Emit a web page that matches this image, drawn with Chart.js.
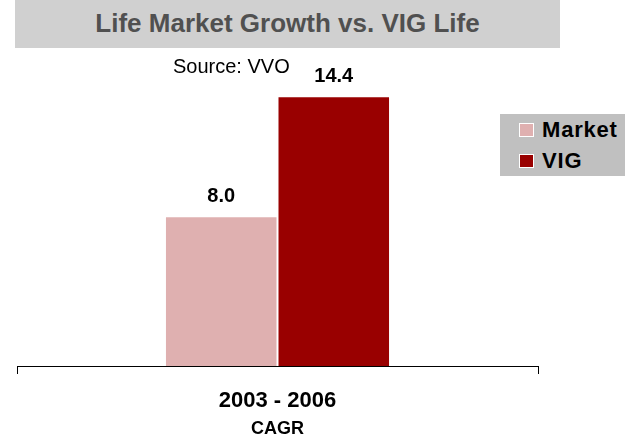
<!DOCTYPE html>
<html>
<head>
<meta charset="utf-8">
<script src="https://cdn.jsdelivr.net/npm/chart.js@4/dist/chart.umd.min.js"></script>
<style>
    html, body { margin: 0; padding: 0; background: #fff; }
    body { width: 625px; height: 438px; position: relative; overflow: hidden; font-family: "Liberation Sans", Arial, sans-serif; }
    #chartBox { position: absolute; left: 0; top: 0; width: 625px; height: 438px; }
    .title-box {
        position: absolute; left: 15px; top: 0; width: 545px; height: 48px;
        background: #d0d0d0; color: #505050; font-weight: bold; font-size: 26px;
        text-align: center; line-height: 46px;
    }
    .source { position: absolute; left: 173px; top: 54px; font-size: 20px; line-height: 24px; color: #000; }
    .legend-box {
        position: absolute; left: 500px; top: 114px; width: 125px; height: 62px;
        background: #c0c0c0;
    }
    .legend-item { position: absolute; left: 19px; font-weight: bold; font-size: 22px; letter-spacing: 0.8px; color: #000; line-height: 24px; white-space: nowrap; }
    .legend-item span {
        display: inline-block; width: 13px; height: 12px; border: 1px solid #fff;
        margin-right: 8px; vertical-align: 0px;
    }
</style>
</head>
<body>
<div id="chartBox"><canvas id="chart" width="625" height="438"></canvas></div>
<div class="title-box">Life Market Growth vs. VIG Life</div>
<div class="source">Source: VVO</div>
<div class="legend-box" id="legend"></div>

<script>
// Dữ liệu
const categories = ["2003 - 2006"];
const seriesNames = ["Market", "VIG"];
const marketValues = [8.0];
const vigValues = [14.4];
const seriesColors = ["#dfb0b0", "#990000"];
const axisTitle = "CAGR";

document.addEventListener("DOMContentLoaded", function () {
    // legend (HTML)
    const legend = document.getElementById("legend");
    seriesNames.forEach((name, i) => {
        const div = document.createElement("div");
        div.className = "legend-item";
        div.style.top = (4 + i * 31) + "px";
        div.innerHTML = `<span style="background:${seriesColors[i]}"></span>${name}`;
        legend.appendChild(div);
    });

    // nhãn giá trị trên cột
    const valueLabels = {
        id: "valueLabels",
        afterDatasetsDraw(chart) {
            const ctx = chart.ctx;
            ctx.save();
            ctx.font = "bold 20px 'Liberation Sans', Arial, sans-serif";
            ctx.fillStyle = "#000";
            ctx.textAlign = "center";
            ctx.textBaseline = "alphabetic";
            chart.data.datasets.forEach((ds, di) => {
                chart.getDatasetMeta(di).data.forEach((bar, i) => {
                    ctx.fillText(ds.data[i].toFixed(1), bar.x, bar.y - 14);
                });
            });
            ctx.restore();
        },
    };

    new Chart(document.getElementById("chart"), {
        type: "bar",
        data: {
            labels: categories,
            datasets: [
                { label: seriesNames[0], data: marketValues, backgroundColor: seriesColors[0] },
                { label: seriesNames[1], data: vigValues, backgroundColor: seriesColors[1] },
            ],
        },
        options: {
            responsive: false,
            animation: false,
            layout: { padding: { left: 17, right: 87, top: 85, bottom: 0 } },
            datasets: {
                bar: {
                    barPercentage: 1,
                    categoryPercentage: 0.432,
                    borderColor: "#ffffff",
                    borderWidth: 1,
                    borderSkipped: "bottom",
                },
            },
            plugins: { legend: { display: false }, tooltip: { enabled: false } },
            scales: {
                y: { display: false, min: 0, max: 15 },
                x: {
                    offset: true,
                    afterFit: (scale) => { scale.height = 72; },
                    grid: {
                        offset: true,
                        drawOnChartArea: false,
                        drawTicks: true,
                        tickLength: 8,
                        color: "#000",
                    },
                    border: { display: true, color: "#000", width: 1 },
                    ticks: {
                        padding: 16,
                        color: "#000",
                        font: { family: "'Liberation Sans', Arial, sans-serif", size: 22, weight: "bold", lineHeight: 1 },
                    },
                    title: {
                        display: true,
                        text: axisTitle,
                        color: "#000",
                        padding: { top: 8, bottom: 0 },
                        font: { family: "'Liberation Sans', Arial, sans-serif", size: 18, weight: "bold", lineHeight: 1 },
                    },
                },
            },
        },
        plugins: [valueLabels],
    });
});
</script>
</body>
</html>
